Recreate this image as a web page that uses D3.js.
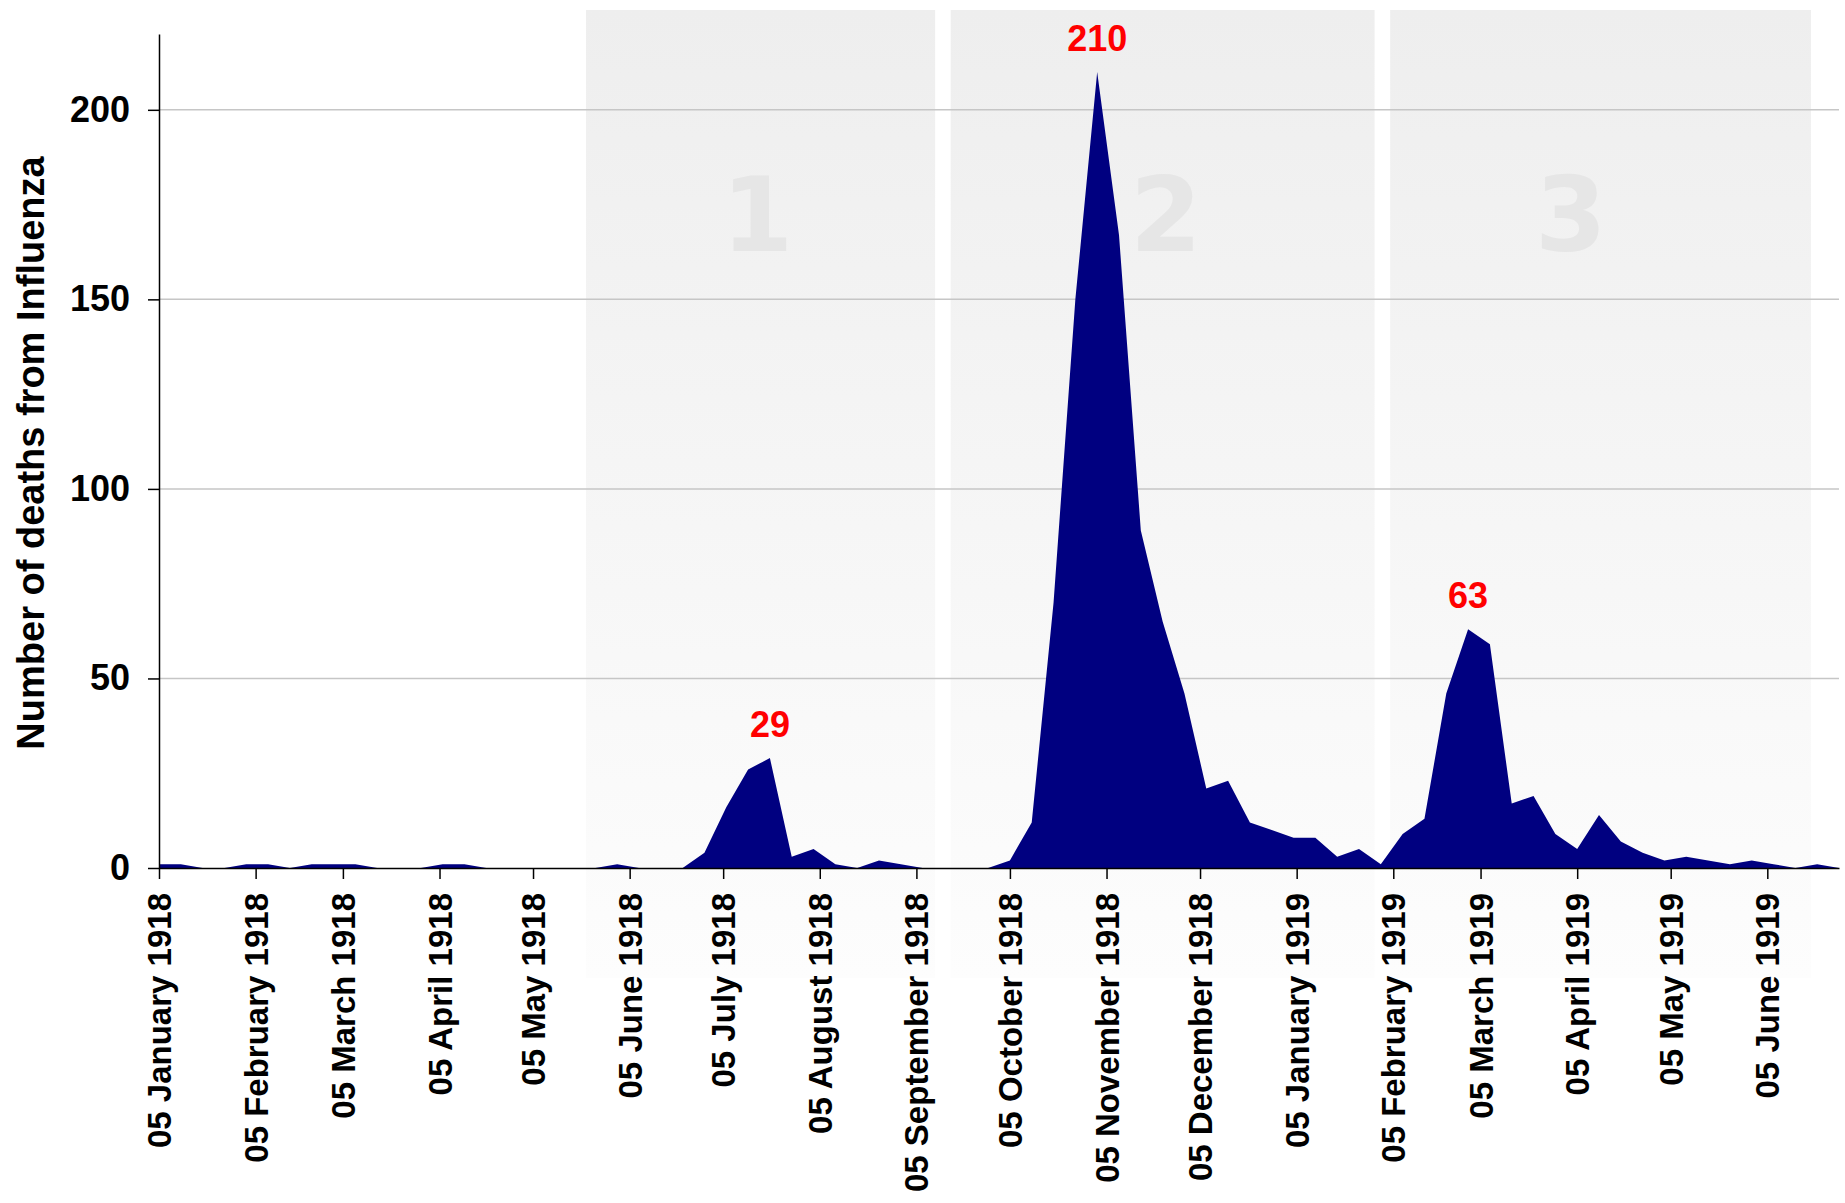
<!DOCTYPE html>
<html>
<head>
<meta charset="utf-8">
<script src="https://cdn.jsdelivr.net/npm/d3@7"></script>
<style>
  body { margin: 0; background: #fff; }
  svg { display: block; font-family: "Liberation Sans", Arial, sans-serif; }
</style>
</head>
<body>
<svg id="chart"></svg>
<script>
// weekly deaths from influenza, first week ending 05 January 1918
const firstWeek = '1918-01-05';
const deaths = [
  1, 1, 0, 0, 1, 1, 0, 1, 1, 1,
  0, 0, 0, 1, 1, 0, 0, 0, 0, 0,
  0, 1, 0, 0, 0, 4, 16, 26, 29, 3,
  5, 1, 0, 2, 1, 0, 0, 0, 0, 2,
  12, 70, 150, 210, 167, 89, 65, 46, 21, 23,
  12, 10, 8, 8, 3, 5, 1, 9, 13, 46,
  63, 59, 17, 19, 9, 5, 14, 7, 4, 2,
  3, 2, 1, 2, 1, 0, 1, 0
];

const tickDates = [
  '1918-01-05', '1918-02-05', '1918-03-05', '1918-04-05', '1918-05-05', '1918-06-05',
  '1918-07-05', '1918-08-05', '1918-09-05', '1918-10-05', '1918-11-05', '1918-12-05',
  '1919-01-05', '1919-02-05', '1919-03-05', '1919-04-05', '1919-05-05', '1919-06-05'
];
const yTicks = [0, 50, 100, 150, 200];

// the three waves
const waveNames = ['1', '2', '3'];
const waveStart = ['1918-05-22', '1918-09-16', '1919-02-04'];
const waveEnd = ['1918-09-11', '1919-01-30', '1919-06-19'];
const waveLabelAt = ['1918-07-16', '1918-11-24', '1919-04-03'];

const yTitle = 'Number of deaths from Influenza';

const width = 1845;
const height = 1203;
const parse = d3.utcParse('%Y-%m-%d');

const start = parse(firstWeek);
const data = deaths.map((v, i) => ({ date: d3.utcDay.offset(start, 7 * i), value: v }));

const svg = d3.select('#chart')
  .attr('width', width)
  .attr('height', height);

const x = d3.scaleUtc()
  .domain([data[0].date, data[data.length - 1].date])
  .range([159, 1839]);

const y = d3.scaleLinear()
  .domain([0, 220])
  .range([868, 34]);

// shaded wave bands
const defs = svg.append('defs');
const grad = defs.append('linearGradient')
  .attr('id', 'band')
  .attr('x1', 0).attr('y1', 0)
  .attr('x2', 0).attr('y2', 1);
grad.append('stop').attr('offset', '0%').attr('stop-color', '#eeeeee');
grad.append('stop').attr('offset', '100%').attr('stop-color', '#fdfdfd');

const bands = svg.append('g').attr('class', 'bands');
waveNames.forEach((name, i) => {
  const x0 = x(parse(waveStart[i]));
  const x1 = x(parse(waveEnd[i]));
  bands.append('rect')
    .attr('x', x0)
    .attr('y', 10)
    .attr('width', x1 - x0)
    .attr('height', 968)
    .attr('fill', 'url(#band)');
  bands.append('text')
    .attr('x', x(parse(waveLabelAt[i])))
    .attr('y', 251)
    .attr('text-anchor', 'middle')
    .style('font-family', '"DejaVu Sans", sans-serif')
    .style('font-weight', 'bold')
    .style('font-size', '103px')
    .attr('fill', '#e6e6e6')
    .text(name);
});

// grid
svg.append('g')
  .attr('class', 'grid')
  .selectAll('line')
  .data(yTicks.filter((d) => d > 0))
  .enter()
  .append('line')
  .attr('x1', x.range()[0])
  .attr('x2', x.range()[1])
  .attr('y1', (d) => y(d))
  .attr('y2', (d) => y(d))
  .attr('stroke', '#c6c6c6')
  .attr('stroke-width', 1.5);

// area
const area = d3.area()
  .x((d) => x(d.date))
  .y0(y(0))
  .y1((d) => y(d.value));

svg.append('path')
  .datum(data)
  .attr('fill', '#000080')
  .attr('d', area);

// peak labels: max of each wave
waveNames.forEach((name, i) => {
  const s = parse(waveStart[i]);
  const e = parse(waveEnd[i]);
  const inWave = data.filter((d) => d.date >= s && d.date <= e);
  const peak = inWave.reduce((a, b) => (b.value > a.value ? b : a));
  svg.append('text')
    .attr('x', x(peak.date))
    .attr('y', y(peak.value) - 21)
    .attr('text-anchor', 'middle')
    .attr('fill', '#ff0000')
    .style('font-weight', 'bold')
    .style('font-size', '36px')
    .text(peak.value);
});

// axes
const xAxis = d3.axisBottom(x)
  .tickValues(tickDates.map(parse))
  .tickFormat(d3.utcFormat('%d %B %Y'))
  .tickSize(11)
  .tickSizeOuter(0);

const gx = svg.append('g')
  .attr('transform', `translate(0,${y(0)})`)
  .call(xAxis);

gx.selectAll('text')
  .attr('transform', 'rotate(-90)')
  .attr('x', -25)
  .attr('y', 0)
  .attr('dy', '0.35em')
  .attr('text-anchor', 'end')
  .style('font-size', '33px')
  .style('font-weight', 'bold')
  .attr('fill', '#000');

const yAxis = d3.axisLeft(y)
  .tickValues(yTicks)
  .tickSize(11)
  .tickPadding(18)
  .tickSizeOuter(0);

const gy = svg.append('g')
  .attr('transform', `translate(${x.range()[0]},0)`)
  .call(yAxis);

gy.selectAll('text')
  .style('font-size', '36px')
  .style('font-weight', 'bold')
  .attr('fill', '#000');

svg.selectAll('.domain, .tick line')
  .attr('stroke', '#000')
  .attr('stroke-width', 1.5);

svg.append('text')
  .attr('transform', `translate(44,${(y.range()[0] + y.range()[1]) / 2 + 2}) rotate(-90)`)
  .attr('text-anchor', 'middle')
  .style('font-size', '38px')
  .style('font-weight', 'bold')
  .text(yTitle);
</script>
</body>
</html>
